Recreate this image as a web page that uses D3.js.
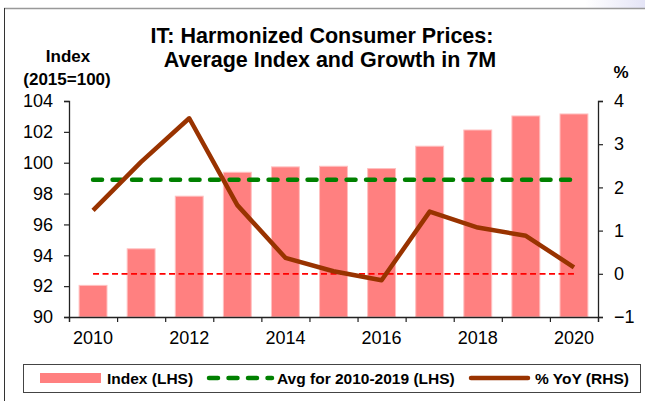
<!DOCTYPE html>
<html>
<head>
<meta charset="utf-8">
<script src="https://cdn.jsdelivr.net/npm/d3@7"></script>
<style>
body{margin:0;background:#fff;}
text{font-family:Arial,"Liberation Sans",sans-serif;}
</style>
</head>
<body>
<div id="chart"></div>
<script>

var years=[2010,2011,2012,2013,2014,2015,2016,2017,2018,2019,2020]
var index_vals=[92.05,94.42,97.83,99.38,99.73,99.77,99.62,101.07,102.12,103.03,103.16]
var yoy_vals=[1.47,2.59,3.6,1.59,0.37,0.06,-0.15,1.44,1.07,0.88,0.15]
var avg_val=98.9
var left_ticks=[90,92,94,96,98,100,102,104]
var right_ticks=[-1,0,1,2,3,4]
var legend_names=["Index (LHS)","Avg for 2010-2019 (LHS)","% YoY (RHS)"]

var W=645,H=401
var margin={top:101,right:47,bottom:84,left:69},
	width=W-margin.left-margin.right,
	height=H-margin.top-margin.bottom;

var svg=d3.select("#chart").append("svg")
	.attr("width",W)
	.attr("height",H)

// slide frame
var defs=svg.append("defs")
var grad=defs.append("linearGradient").attr("id","corner").attr("x1","0").attr("x2","1")
grad.append("stop").attr("offset","0").attr("stop-color","#ffffff")
grad.append("stop").attr("offset","1").attr("stop-color","#e4e4f6")
svg.append("rect").attr("x",585).attr("y",0).attr("width",60).attr("height",8).attr("fill","url(#corner)")
svg.append("line").attr("x1",4).attr("y1",8.5).attr("x2",W).attr("y2",8.5).attr("stroke","#999").attr("stroke-width",1.5)
svg.append("line").attr("x1",4.5).attr("y1",8).attr("x2",4.5).attr("y2",H).attr("stroke","#333").attr("stroke-width",1)

var g=svg.append("g").attr("transform","translate("+margin.left+","+margin.top+")")

var xScale=d3.scaleBand().domain(years).range([0,width]).paddingInner(0.42).paddingOuter(0.21)
var xTickScale=d3.scaleLinear().domain([0,years.length]).range([0,width])
var yScale=d3.scaleLinear().domain([90,104]).range([height,0])
var yScale2=d3.scaleLinear().domain([-1,4]).range([height,0])

function cx(d){return xScale(d)+xScale.bandwidth()/2}

// bars
g.selectAll(".bar").data(index_vals).enter().append("rect")
	.attr("class","bar")
	.attr("x",function(d,i){return xScale(years[i])})
	.attr("y",function(d){return yScale(d)})
	.attr("width",xScale.bandwidth())
	.attr("height",function(d){return height-yScale(d)})
	.attr("fill","#ff8080")
	.attr("stroke","#ffc0c0")
	.attr("stroke-width",1)

// average line (2010-2019)
g.append("line")
	.attr("x1",cx(years[0])).attr("x2",cx(years[years.length-1]))
	.attr("y1",yScale(avg_val)).attr("y2",yScale(avg_val))
	.attr("stroke","#008000")
	.attr("stroke-width",4.5)
	.attr("stroke-linecap","round")
	.attr("stroke-dasharray","9,10.5")

// zero line for RHS
g.append("line")
	.attr("x1",cx(years[0])).attr("x2",cx(years[years.length-1]))
	.attr("y1",yScale2(0)).attr("y2",yScale2(0))
	.attr("stroke","#ff0000")
	.attr("stroke-width",1.8)
	.attr("stroke-dasharray","6,3.5")

var line=d3.line()
	.x(function(d,i){return cx(years[i])})
	.y(function(d){return yScale2(d)})

g.append("path")
	.datum(yoy_vals)
	.attr("d",line)
	.attr("fill","none")
	.attr("stroke","#993300")
	.attr("stroke-width",4.5)
	.attr("stroke-linejoin","round")

// axes
var asse_y=d3.axisLeft(yScale).tickValues(left_ticks).tickSize(5).tickPadding(11)
var asse_y2=d3.axisRight(yScale2).tickValues(right_ticks).tickSize(5).tickPadding(11).tickFormat(d3.format("d"))
var asse_x=d3.axisBottom(xTickScale).ticks(years.length).tickSize(5).tickFormat("")

var yAxisGroup=g.append("g").call(asse_y)
var yAxisGroup2=g.append("g").attr("transform","translate("+width+",0)").call(asse_y2)
var xAxisGroup=g.append("g").attr("transform","translate(0,"+height+")").call(asse_x)

g.selectAll(".domain").attr("stroke","#222").attr("stroke-width",1.3)
g.selectAll(".tick line").attr("stroke","#222").attr("stroke-width",1.2)
g.selectAll(".tick text").attr("font-size",18).attr("fill","#000")

// year labels, even years only
g.selectAll(".xlab").data(years.filter(function(d){return d%2==0})).enter().append("text")
	.attr("class","xlab")
	.attr("x",function(d){return cx(d)})
	.attr("y",height+27)
	.attr("text-anchor","middle")
	.attr("font-size",18)
	.text(function(d){return d})

// titles
svg.append("text").attr("x",322).attr("y",43).attr("text-anchor","middle")
	.attr("font-size",21.5).attr("font-weight","bold").text("IT: Harmonized Consumer Prices:")
svg.append("text").attr("x",330).attr("y",67).attr("text-anchor","middle")
	.attr("font-size",21.5).attr("font-weight","bold").text("Average Index and Growth in 7M")
svg.append("text").attr("x",68).attr("y",62).attr("text-anchor","middle")
	.attr("font-size",17).attr("font-weight","bold").text("Index")
svg.append("text").attr("x",67).attr("y",85).attr("text-anchor","middle")
	.attr("font-size",17).attr("font-weight","bold").text("(2015=100)")
svg.append("text").attr("x",621).attr("y",78).attr("text-anchor","middle")
	.attr("font-size",17).attr("font-weight","bold").text("%")

// legend
var leg=svg.append("g")
leg.append("rect").attr("x",23.5).attr("y",364.5).attr("width",617).attr("height",28)
	.attr("fill","#fff").attr("stroke","#444").attr("stroke-width",1)
var ly=378
leg.append("rect").attr("x",40).attr("y",ly-5).attr("width",61).attr("height",10).attr("fill","#ff8080")
leg.append("line").attr("x1",209).attr("x2",272).attr("y1",ly).attr("y2",ly)
	.attr("stroke","#008000").attr("stroke-width",4.5).attr("stroke-linecap","round").attr("stroke-dasharray","9,10.5")
leg.append("line").attr("x1",471).attr("x2",528).attr("y1",ly).attr("y2",ly)
	.attr("stroke","#993300").attr("stroke-width",4.5).attr("stroke-linecap","round")
var lx=[107,277,535]
leg.selectAll(".ltxt").data(legend_names).enter().append("text")
	.attr("class","ltxt")
	.attr("x",function(d,i){return lx[i]})
	.attr("y",ly+5.5)
	.attr("font-size",15.5).attr("font-weight","bold")
	.text(function(d){return d})

</script>
</body>
</html>
